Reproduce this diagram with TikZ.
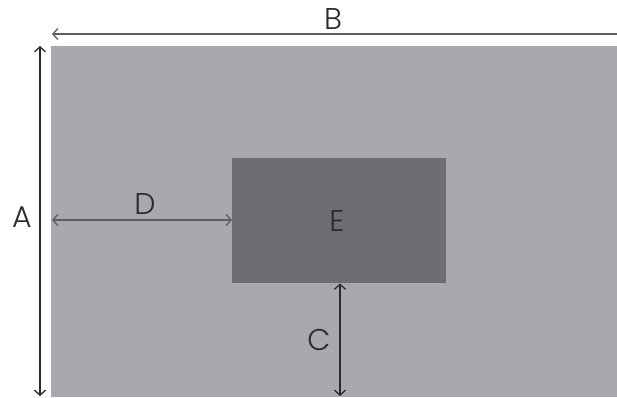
\documentclass[tikz,border=0pt]{standalone}
\usepackage{fontspec}
\setmainfont{Poppins}[UprightFont=* Light]
\usetikzlibrary{arrows.meta}
\definecolor{lightg}{HTML}{A8A9AD}
\definecolor{darkg}{HTML}{6D6E72}
\definecolor{linec}{HTML}{2B2B2D}
\definecolor{lineg}{HTML}{5E5E60}
\tikzset{
  dim/.style={line width=1.3pt, draw=linec},
  lbl/.style={font=\fontsize{30}{30}\selectfont, text=linec, inner sep=0pt}
}
\begin{document}
\begin{tikzpicture}[x=1pt,y=-1pt, >={Straight Barb[length=5pt,width=11pt,line width=1.3pt]}]
\useasboundingbox (0,0) rectangle (617,397);
\fill[white] (0,0) rectangle (617,397);
\fill[lightg] (51,46) rectangle (617,397);
\node[fill=darkg, minimum width=214pt, minimum height=125pt, inner sep=0pt, anchor=north west] (box) at (232,158) {};
\node[lbl] at (337,221) {E};
% B
\coordinate (b1) at (52,34);
\coordinate (b2) at (617,34);
\draw[dim, draw=lineg, <-] (b1) -- (b2);
\node[lbl] at (333,19) {B};
% A
\coordinate (a1) at (40,46);
\coordinate (a2) at (40,396);
\draw[dim, <->] (a1) -- (a2);
\node[lbl] at (22,217) {A};
% D
\coordinate (d1) at (52,220);
\draw[dim, draw=lineg, <->] (d1) -- (box.west |- d1);
\node[lbl] at (145,204) {D};
% C
\coordinate (c1) at (340,396);
\draw[dim, <->] (box.south -| c1) -- (c1);
\node[lbl] at (319,340) {C};
\end{tikzpicture}
\end{document}
